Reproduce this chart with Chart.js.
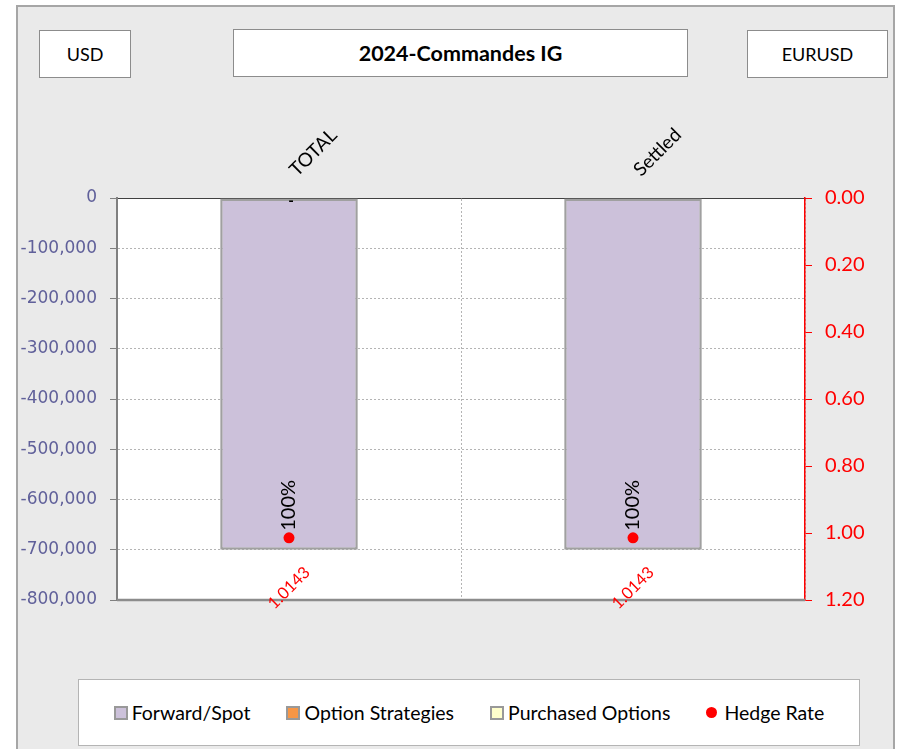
<!DOCTYPE html>
<html>
<head>
<meta charset="utf-8">
<script src="https://cdn.jsdelivr.net/npm/chart.js@4.4.1/dist/chart.umd.min.js"></script>
<style>
  html, body { margin: 0; padding: 0; background: #fff; width: 898px; height: 749px; overflow: hidden; }
  #frame { position: absolute; left: 16px; top: 5px; width: 879px; height: 760px; background: #eaeaea; border: 2px solid #a6a6a6; box-sizing: border-box; }
  .box { position: absolute; background: #fff; border: 1.5px solid #8c8c8c; box-sizing: border-box;
         display: flex; align-items: center; justify-content: center; font-family: Lato; font-size: 18px; color: #000; }
  #wrap { position: absolute; left: 0; top: 0; width: 898px; height: 670px; }
  #legend { position: absolute; left: 78px; top: 679px; width: 782px; height: 67px; background: #fff; border: 1.5px solid #b4b4b4;
            box-sizing: border-box; display: flex; align-items: center; justify-content: center; font-family: Lato; font-size: 19.5px; color: #000; }
  .item { display: flex; align-items: center; margin: 0 18px; }
  .mark { width: 14px; height: 14px; box-sizing: border-box; border: 2px solid #999; margin-right: 4px; }
  .dot { width: 11px; height: 11px; border-radius: 50%; background: red; margin-right: 7px; }
</style>
</head>
<body>
<div id="frame"></div>
<div class="box" style="left:39px;top:30px;width:92px;height:48px;">USD</div>
<div class="box" style="left:233px;top:29px;width:455px;height:48px;font-weight:bold;font-size:21.5px;">2024-Commandes IG</div>
<div class="box" style="left:747px;top:30px;width:141px;height:48px;">EURUSD</div>
<div id="wrap"><canvas id="myChart"></canvas></div>
<div id="legend"></div>
<script>
const categories = ["TOTAL", "Settled"];
const forwardSpot = [-700000, -700000];
const optionStrategies = [0, 0];
const purchasedOptions = [0, 0];
const hedgeRate = [1.0143, 1.0143];
const hedgeRatio = ["100%", "100%"];
const optionLabels = ["-", ""];
const seriesNames = ["Forward/Spot", "Option Strategies", "Purchased Options", "Hedge Rate"];
const leftAxis = { min: -800000, max: 0, step: 100000 };
const rightAxis = { min: 0, max: 1.2, step: 0.2 };

const colors = ["#CCC1DA", "#F79646", "#FFFFCC", "#FF0000"];

// white plot area + bottom border
const plotBg = {
  id: "plotBg",
  beforeDraw(chart) {
    const { ctx, chartArea: a } = chart;
    ctx.save();
    ctx.fillStyle = "#fff";
    ctx.fillRect(a.left, a.top, a.right - a.left, a.bottom - a.top);
    ctx.restore();
  },
  beforeDatasetsDraw(chart) {
    const { ctx, chartArea: a } = chart;
    ctx.save();
    ctx.strokeStyle = "#8c8c8c";
    ctx.lineWidth = 2.5;
    ctx.beginPath();
    ctx.moveTo(a.left, a.bottom);
    ctx.lineTo(a.right, a.bottom);
    ctx.stroke();
    ctx.restore();
  }
};

const dataLabels = {
  id: "dataLabels",
  afterDatasetsDraw(chart) {
    const { ctx, chartArea: a } = chart;
    chart.getDatasetMeta(3).data.forEach((pt, i) => {
      ctx.save();
      ctx.translate(pt.x, pt.y - 7);
      ctx.rotate(-Math.PI / 2);
      ctx.font = "20px Lato";
      ctx.fillStyle = "#000";
      ctx.textAlign = "left";
      ctx.textBaseline = "middle";
      ctx.fillText(hedgeRatio[i], 0, 0);
      ctx.restore();

      ctx.save();
      ctx.translate(pt.x, a.bottom - 12);
      ctx.rotate(-Math.PI / 4);
      ctx.font = "16.5px Lato";
      ctx.fillStyle = "red";
      ctx.textAlign = "center";
      ctx.textBaseline = "middle";
      ctx.fillText(hedgeRate[i].toFixed(4), 0, 0);
      ctx.restore();
    });
    const zeroY = chart.scales.y.getPixelForValue(0);
    chart.getDatasetMeta(1).data.forEach((bar, i) => {
      if (!optionLabels[i]) return;
      ctx.save();
      ctx.font = "bold 15px Lato";
      ctx.fillStyle = "#000";
      ctx.textAlign = "center";
      ctx.textBaseline = "alphabetic";
      ctx.fillText(optionLabels[i], bar.x + 2, zeroY + 8);
      ctx.restore();
    });
  }
};

const ctx = document.getElementById("myChart").getContext("2d");
const myChart = new Chart(ctx, {
  type: "bar",
  data: {
    labels: categories,
    datasets: [
      { label: seriesNames[0], data: forwardSpot, backgroundColor: colors[0], borderColor: "#a0a0a0", borderWidth: 2.5,
        borderSkipped: false, stack: "s", order: 1, barPercentage: 0.5, categoryPercentage: 0.8 },
      { label: seriesNames[1], data: optionStrategies, backgroundColor: colors[1], borderWidth: 0,
        stack: "s", order: 1, barPercentage: 0.5, categoryPercentage: 0.8 },
      { label: seriesNames[2], data: purchasedOptions, backgroundColor: colors[2], borderWidth: 0,
        stack: "s", order: 1, barPercentage: 0.5, categoryPercentage: 0.8 },
      { type: "line", label: seriesNames[3], data: hedgeRate, yAxisID: "y1", showLine: false, order: 0,
        pointRadius: 5.5, pointBackgroundColor: colors[3], pointBorderWidth: 0 }
    ]
  },
  options: {
    responsive: true,
    maintainAspectRatio: false,
    animation: false,
    layout: { padding: { left: 0, right: 0, top: 0, bottom: 70 } },
    plugins: { legend: { display: false }, tooltip: { enabled: false } },
    scales: {
      x: {
        position: "top",
        stacked: true,
        grid: { color: "#b4b4b4", drawTicks: false },
        border: { color: "#404040", width: 1, dash: [2, 2] },
        ticks: { color: "#000", font: { family: "Lato", size: 19 }, minRotation: 45, maxRotation: 45, padding: 17,
                 labelOffset: 20, autoSkip: false },
        afterFit: s => { s.height = 198; }
      },
      y: {
        position: "left",
        stacked: true,
        min: leftAxis.min,
        max: leftAxis.max,
        ticks: { stepSize: leftAxis.step, color: "#60609a", font: { family: "DejaVu Sans", size: 17 }, padding: 13,
                 callback: v => v.toLocaleString("en-US") },
        grid: { color: "#b4b4b4", tickColor: "#808080", tickLength: 7, tickBorderDash: [] },
        border: { color: "#808080", width: 2, dash: [2, 2] },
        afterFit: s => { s.width = 117; }
      },
      y1: {
        position: "right",
        min: rightAxis.min,
        max: rightAxis.max,
        reverse: true,
        ticks: { stepSize: rightAxis.step, color: "#ff0000", font: { family: "Lato", size: 20 }, padding: 13,
                 callback: v => v.toFixed(2) },
        grid: { drawOnChartArea: false, tickColor: "#ff0000", tickLength: 7 },
        border: { color: "#ff0000", width: 1.5 },
        afterFit: s => { s.width = 93; }
      }
    }
  },
  plugins: [plotBg, dataLabels]
});

// html legend from the series
const legend = document.getElementById("legend");
seriesNames.forEach((name, i) => {
  const item = document.createElement("div");
  item.className = "item";
  const m = document.createElement("span");
  if (i === 3) { m.className = "dot"; } else { m.className = "mark"; m.style.background = colors[i]; }
  item.appendChild(m);
  item.appendChild(document.createTextNode(name));
  legend.appendChild(item);
});
</script>
</body>
</html>
